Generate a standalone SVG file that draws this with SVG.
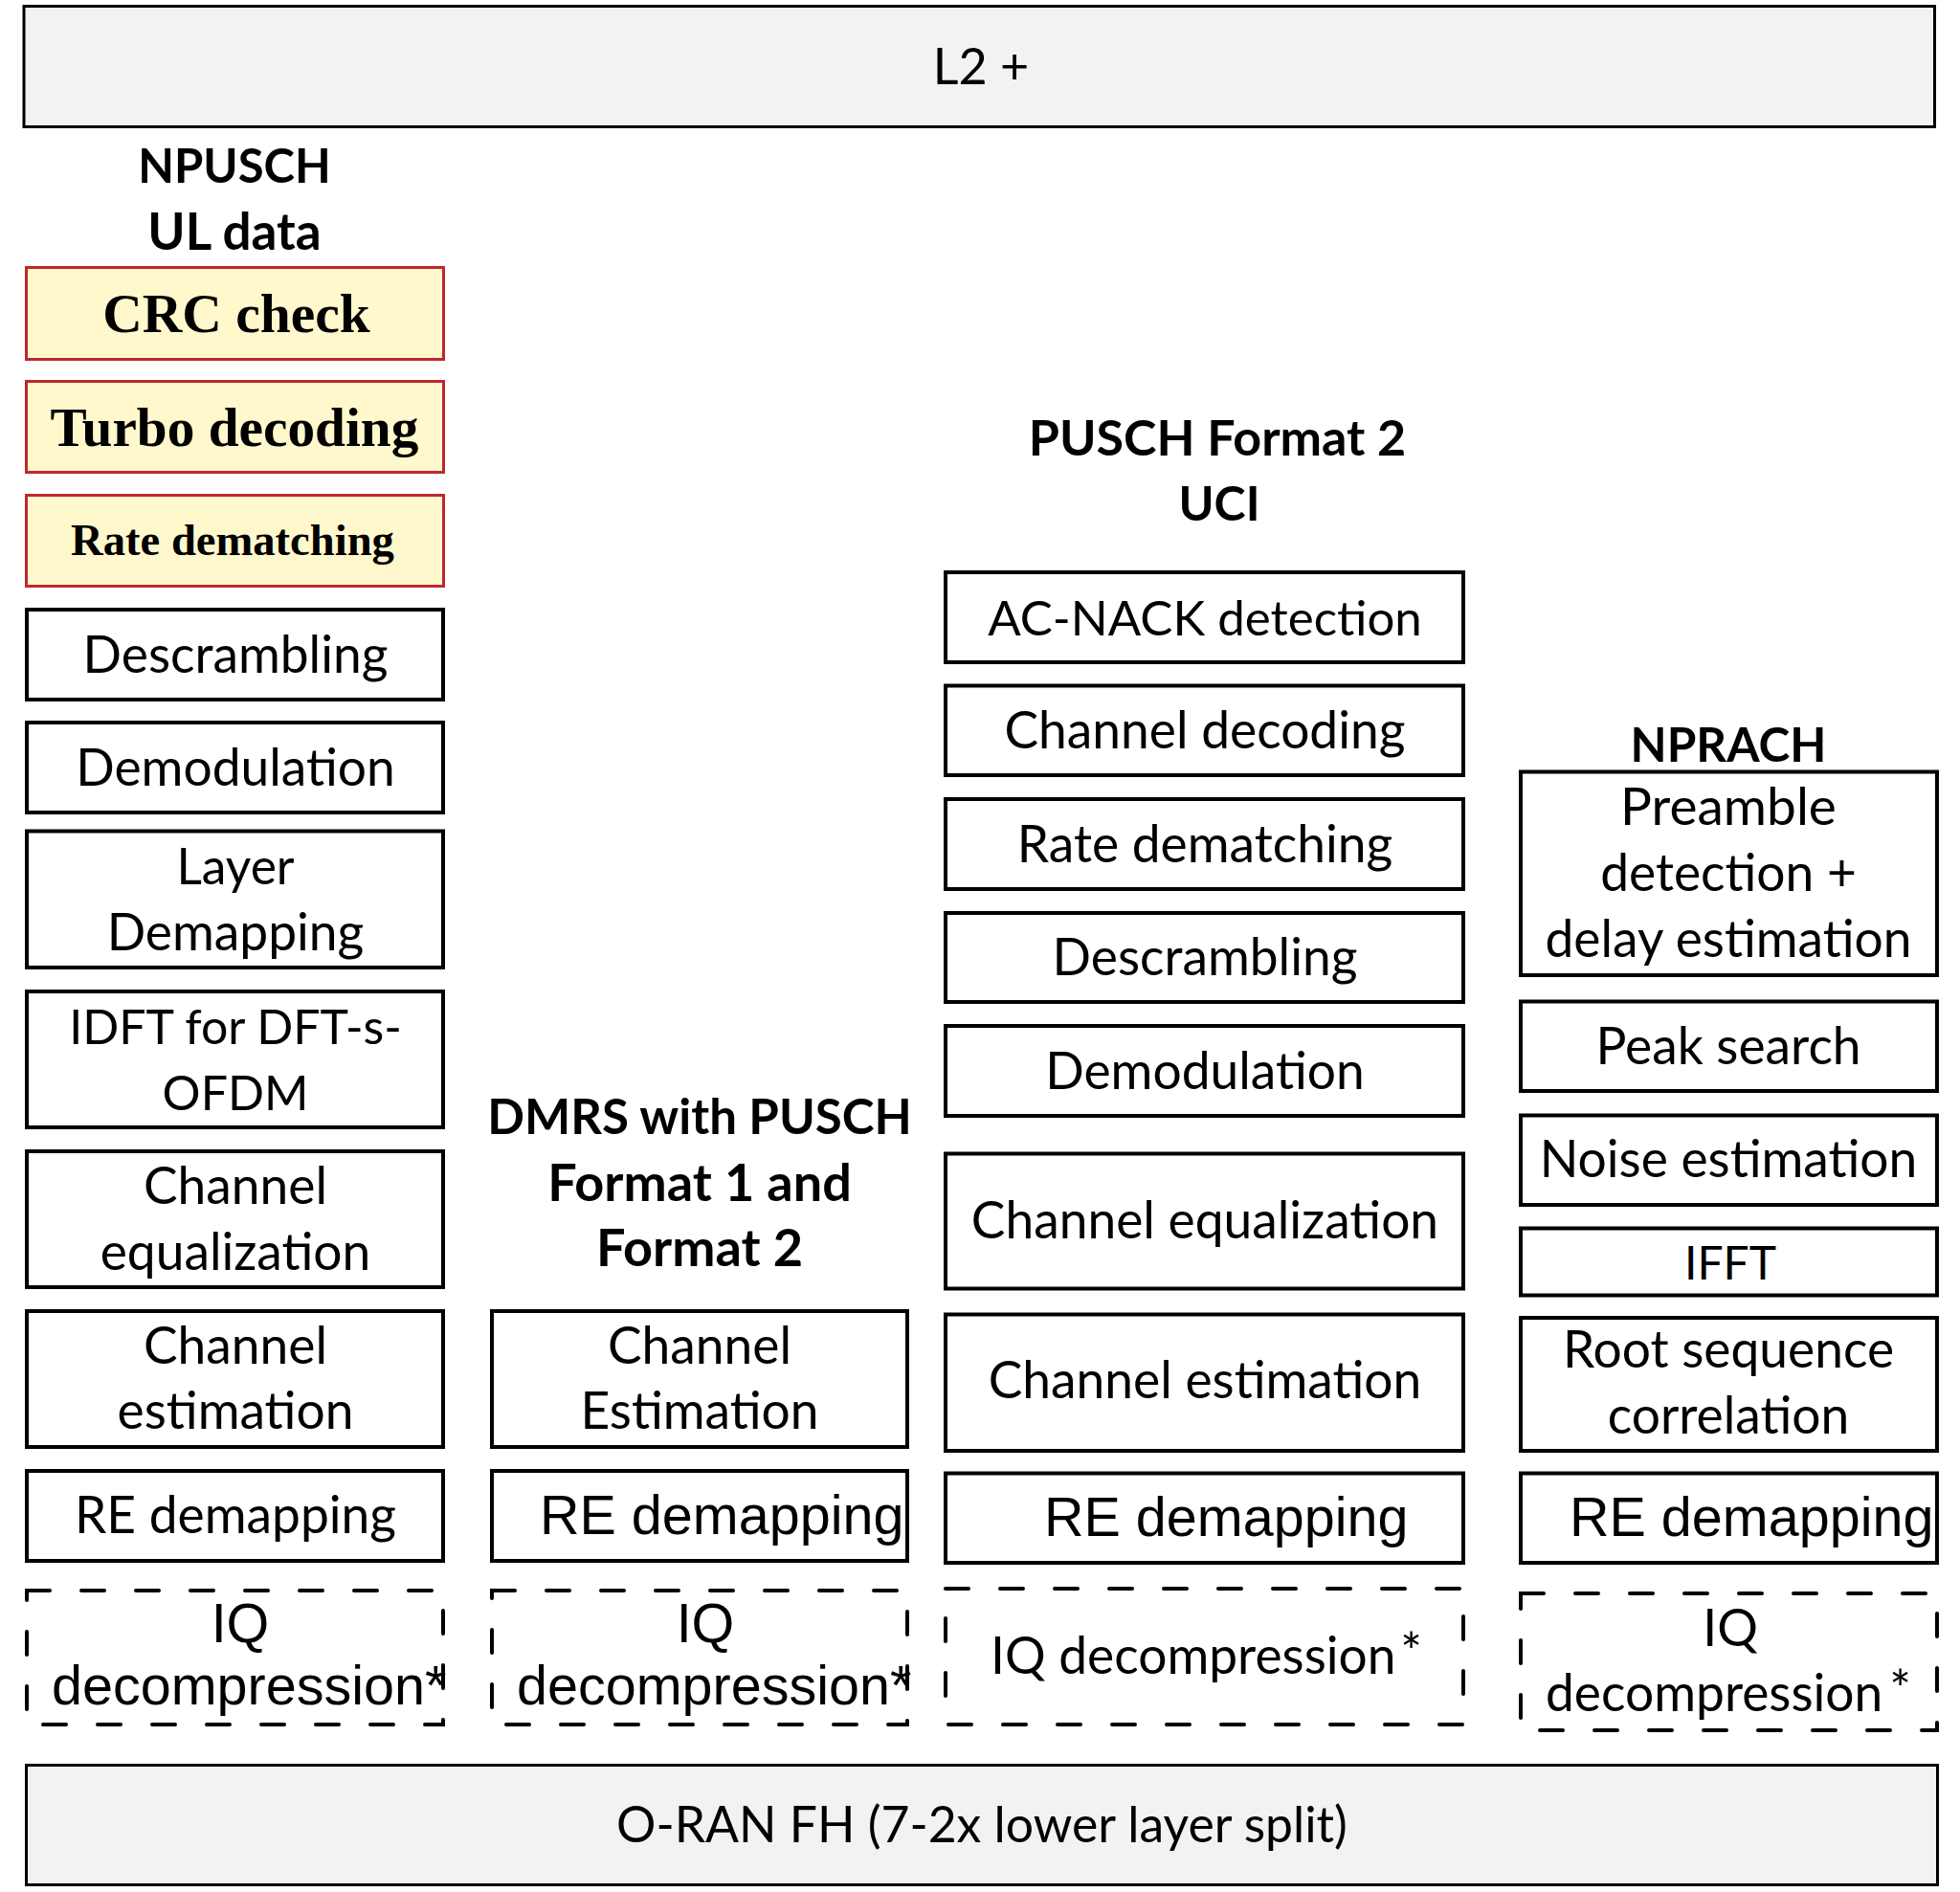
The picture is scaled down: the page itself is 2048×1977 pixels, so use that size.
<svg xmlns="http://www.w3.org/2000/svg" width="2048" height="1977" viewBox="0 0 2048 1977">
  <style>
    .box { fill: #ffffff; stroke: #000000; stroke-width: 4; }
    .hl { fill: #FFF8CC; stroke: #C0272D; stroke-width: 3; }
    .dash { fill: #ffffff; stroke: #000000; stroke-width: 4; stroke-dasharray: 24 33; stroke-linecap: round; }
    .bar { fill: #F2F2F2; stroke: #000000; stroke-width: 3; }
    .t { font-family: Lato, "Noto Sans", sans-serif; font-size: 53.3px; fill: #000; text-anchor: middle; }
    .h { font-family: Lato, "Noto Sans", sans-serif; font-weight: bold; font-size: 51px; fill: #000; text-anchor: middle; }
    .a { font-family: "Liberation Sans", Arial, sans-serif; font-size: 57.5px; fill: #000; text-anchor: start; }
    .s { font-family: "Liberation Serif", "Times New Roman", serif; font-weight: bold; fill: #000; text-anchor: middle; }
    .mid { text-anchor: middle; }
    .st { text-anchor: start; }
  </style>

  <!-- upper layer bar -->
  <g id="l2plus">
    <rect class="bar" x="25" y="6.5" width="1996.5" height="126"/>
    <text class="t" x="1025" y="88" style="font-size:52px">L2 +</text>
  </g>

  <!-- column 1: NPUSCH UL data -->
  <g id="npusch-title">
    <text class="h" x="245" y="191" style="font-size:49px">NPUSCH</text>
    <text class="h" x="245" y="261" style="font-size:53px">UL data</text>
  </g>
  <g id="crc-check">
    <rect class="hl" x="27.5" y="279.5" width="436" height="96"/>
    <text class="s" x="247" y="347" font-size="57.5">CRC check</text>
  </g>
  <g id="turbo-decoding">
    <rect class="hl" x="27.5" y="398.5" width="436" height="95"/>
    <text class="s" x="245" y="466" font-size="57.3">Turbo decoding</text>
  </g>
  <g id="rate-dematching-1">
    <rect class="hl" x="27.5" y="517.5" width="436" height="95"/>
    <text class="s" x="243" y="580" font-size="46.6">Rate dematching</text>
  </g>
  <g id="descrambling-1">
    <rect class="box" x="28" y="637" width="435" height="94"/>
    <text class="t" x="246" y="703">Descrambling</text>
  </g>
  <g id="demodulation-1">
    <rect class="box" x="28" y="755" width="435" height="94"/>
    <text class="t" x="246" y="821">Demodulation</text>
  </g>
  <g id="layer-demapping">
    <rect class="box" x="28" y="868.5" width="435" height="142.5"/>
    <text class="t" x="246" y="923.5" style="font-size:51.5px">Layer</text>
    <text class="t" x="246" y="993">Demapping</text>
  </g>
  <g id="idft">
    <rect class="box" x="28" y="1036" width="435" height="142"/>
    <text class="t" x="246" y="1091" style="font-size:50px">IDFT for DFT-s-</text>
    <text class="t" x="246" y="1160" style="font-size:50px">OFDM</text>
  </g>
  <g id="channel-equalization-1">
    <rect class="box" x="28" y="1203" width="435" height="142"/>
    <text class="t" x="246" y="1258">Channel</text>
    <text class="t" x="246" y="1326.5">equalization</text>
  </g>
  <g id="channel-estimation-1">
    <rect class="box" x="28" y="1370" width="435" height="142"/>
    <text class="t" x="246" y="1425">Channel</text>
    <text class="t" x="246" y="1493">estimation</text>
  </g>
  <g id="re-demapping-1">
    <rect class="box" x="28" y="1537" width="435" height="94"/>
    <text class="t" x="246" y="1602">RE demapping</text>
  </g>
  <g id="iq-decompression-1">
    <rect class="dash" x="28" y="1662" width="435" height="140"/>
    <text class="a mid" x="251" y="1716">IQ</text>
    <text class="a" x="54" y="1781">decompression*</text>
  </g>

  <!-- column 2: DMRS -->
  <g id="dmrs-title">
    <text class="h" x="731" y="1185">DMRS with PUSCH</text>
    <text class="h" x="731" y="1255" style="font-size:54px">Format 1 and</text>
    <text class="h" x="731" y="1323" style="font-size:54px">Format 2</text>
  </g>
  <g id="channel-estimation-2">
    <rect class="box" x="514" y="1370" width="434" height="142"/>
    <text class="t" x="731" y="1425">Channel</text>
    <text class="t" x="731" y="1493">Estimation</text>
  </g>
  <g id="re-demapping-2">
    <rect class="box" x="514" y="1537" width="434" height="94"/>
    <text class="a" x="564" y="1603">RE demapping</text>
  </g>
  <g id="iq-decompression-2">
    <rect class="dash" x="514" y="1662" width="434" height="140"/>
    <text class="a mid" x="737" y="1716">IQ</text>
    <text class="a" x="540" y="1781">decompression*</text>
  </g>

  <!-- column 3: PUSCH Format 2 UCI -->
  <g id="uci-title">
    <text class="h" x="1272" y="476" style="font-size:52px">PUSCH Format 2</text>
    <text class="h" x="1274" y="543.5" style="font-size:50px">UCI</text>
  </g>
  <g id="ack-nack-detection">
    <rect class="box" x="988" y="598" width="541" height="94"/>
    <text class="t" x="1259" y="664" style="font-size:51px">AC-NACK detection</text>
  </g>
  <g id="channel-decoding">
    <rect class="box" x="988" y="716.5" width="541" height="93.5"/>
    <text class="t" x="1259" y="782">Channel decoding</text>
  </g>
  <g id="rate-dematching-3">
    <rect class="box" x="988" y="835" width="541" height="94"/>
    <text class="t" x="1259" y="900.5">Rate dematching</text>
  </g>
  <g id="descrambling-3">
    <rect class="box" x="988" y="954" width="541" height="93"/>
    <text class="t" x="1259" y="1019">Descrambling</text>
  </g>
  <g id="demodulation-3">
    <rect class="box" x="988" y="1072" width="541" height="94"/>
    <text class="t" x="1259" y="1137.5">Demodulation</text>
  </g>
  <g id="channel-equalization-3">
    <rect class="box" x="988" y="1205.5" width="541" height="141"/>
    <text class="t" x="1259" y="1294">Channel equalization</text>
  </g>
  <g id="channel-estimation-3">
    <rect class="box" x="988" y="1373.5" width="541" height="142.5"/>
    <text class="t" x="1259" y="1461">Channel estimation</text>
  </g>
  <g id="re-demapping-3">
    <rect class="box" x="988" y="1539.5" width="541" height="93.5"/>
    <text class="a" x="1091" y="1604.5">RE demapping</text>
  </g>
  <g id="iq-decompression-3">
    <rect class="dash" x="988" y="1660" width="541" height="142"/>
    <text class="t st" x="1035" y="1749">IQ decompression<tspan dx="6" dy="-4">*</tspan></text>
  </g>

  <!-- column 4: NPRACH -->
  <g id="nprach-title">
    <text class="h" x="1806" y="796" style="font-size:49.5px">NPRACH</text>
  </g>
  <g id="preamble-detection">
    <rect class="box" x="1589" y="806.5" width="435" height="212.5"/>
    <text class="t" x="1806" y="862" style="font-size:55px">Preamble</text>
    <text class="t" x="1806" y="931">detection +</text>
    <text class="t" x="1806" y="1000">delay estimation</text>
  </g>
  <g id="peak-search">
    <rect class="box" x="1589" y="1046.5" width="435" height="93.5"/>
    <text class="t" x="1806" y="1112">Peak search</text>
  </g>
  <g id="noise-estimation">
    <rect class="box" x="1589" y="1165.5" width="435" height="93.5"/>
    <text class="t" x="1806" y="1229.5">Noise estimation</text>
  </g>
  <g id="ifft">
    <rect class="box" x="1589" y="1283.5" width="435" height="70"/>
    <text class="t" x="1808" y="1337" style="font-size:48px">IFFT</text>
  </g>
  <g id="root-sequence-correlation">
    <rect class="box" x="1589" y="1377" width="435" height="139"/>
    <text class="t" x="1806" y="1428.5">Root sequence</text>
    <text class="t" x="1806" y="1498">correlation</text>
  </g>
  <g id="re-demapping-4">
    <rect class="box" x="1589" y="1539.5" width="435" height="93.5"/>
    <text class="a" x="1640" y="1604.5">RE demapping</text>
  </g>
  <g id="iq-decompression-4">
    <rect class="dash" x="1589" y="1665" width="435" height="143"/>
    <text class="t" x="1808" y="1720">IQ</text>
    <text class="t st" x="1615" y="1788">decompression<tspan dx="8" dy="-4">*</tspan></text>
  </g>

  <!-- fronthaul bar -->
  <g id="oran-fh">
    <rect class="bar" x="27.5" y="1844.5" width="1997" height="125"/>
    <text class="t" x="1026" y="1924.5" style="font-size:51.7px">O-RAN FH (7-2x lower layer split)</text>
  </g>

  <g id="connectors"></g>
</svg>
